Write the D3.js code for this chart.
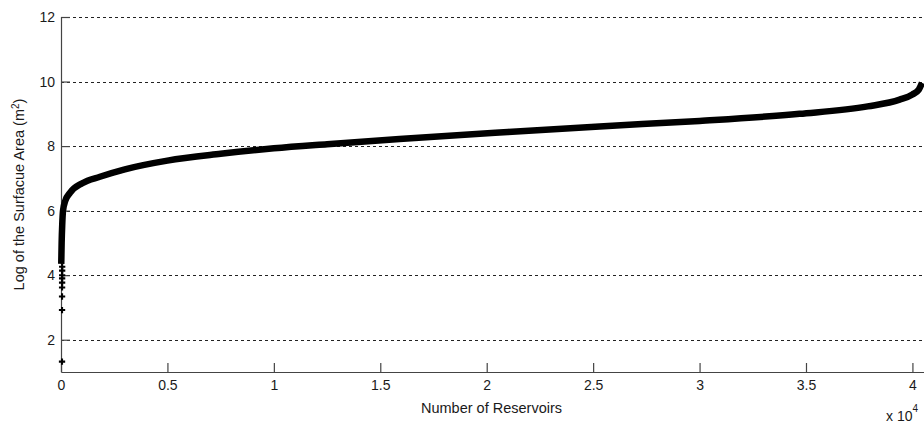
<!DOCTYPE html>
<html>
<head>
<meta charset="utf-8">
<script src="https://cdn.jsdelivr.net/npm/d3@7"></script>
<style>
  body { margin: 0; background: #fff; }
  svg { display: block; }
  text { font-family: "Liberation Sans", Arial, sans-serif; fill: #1a1a1a; }
</style>
</head>
<body>
<svg id="chart" width="924" height="426"></svg>
<script>
// reservoirs ranked by size (x in units of 10^4), log of surface area
var rankX  = [0.0012, 0.003, 0.006, 0.0095, 0.02, 0.042, 0.1, 0.183, 0.3, 0.5, 0.75, 1.0, 1.25, 1.59, 2.06, 2.53, 3.0, 3.47, 3.79, 3.94, 4.0, 4.03, 4.045];
var logArea = [4.35, 5.0, 5.6, 6.0, 6.3, 6.55, 6.85, 7.05, 7.28, 7.55, 7.76, 7.93, 8.06, 8.22, 8.42, 8.61, 8.78, 9.0, 9.23, 9.44, 9.6, 9.75, 9.96];
// the few smallest reservoirs, drawn as single markers
var lowX = [0.0001, 0.0002, 0.0003, 0.0004, 0.0005, 0.0006, 0.0007, 0.0008, 0.0009];
var lowY = [1.32, 2.92, 3.34, 3.62, 3.77, 3.9, 4.0, 4.14, 4.26];

var xTicks = [0, 0.5, 1, 1.5, 2, 2.5, 3, 3.5, 4];
var yTicks = [2, 4, 6, 8, 10, 12];

var margin = {top: 17, right: 2, bottom: 54, left: 61};
var svg = d3.select("#chart");
var W = 924, H = 426;
var width = W - margin.left - margin.right;
var height = H - margin.top - margin.bottom;
var tickFont = "14px";
var labelFont = "14.5px";

var g = svg.append("g").attr("transform", "translate(" + margin.left + "," + margin.top + ")");

var x = d3.scaleLinear().domain([0, 4.045]).range([0, width]);
var y = d3.scaleLinear().domain([1, 12]).range([height, 0]);

// grid
g.append("g")
  .selectAll("line")
  .data(yTicks)
  .enter().append("line")
  .attr("x1", 0).attr("x2", width + 2)
  .attr("y1", function(d){ return Math.round(y(d)) + 0.5; })
  .attr("y2", function(d){ return Math.round(y(d)) + 0.5; })
  .attr("stroke", "#222")
  .attr("stroke-width", 1)
  .attr("stroke-dasharray", "3,3");

// axes
var xAxis = d3.axisBottom(x).tickValues(xTicks).tickSize(-9).tickPadding(8)
  .tickFormat(function(d){ return d3.format("")(d); });
var xAxisGroup = g.append("g").attr("transform", "translate(0," + height + ")").call(xAxis);
var yAxis = d3.axisLeft(y).tickValues(yTicks).tickSize(-9).tickPadding(6);
var yAxisGroup = g.append("g").call(yAxis);

[xAxisGroup, yAxisGroup].forEach(function(ax){
  ax.select(".domain").attr("stroke", "#444").attr("stroke-width", 1.2);
  ax.selectAll(".tick line").attr("stroke", "#444").attr("stroke-width", 1.2);
  ax.selectAll("text").style("font-size", tickFont).attr("fill", "#1a1a1a");
});
xAxisGroup.select(".domain").attr("d", "M0.5,0.5H" + (width + 2));
yAxisGroup.select(".domain").attr("d", "M0.5," + (height + 0.5) + "V0");

// curve
var line = d3.line()
  .x(function(d){ return x(d[0]); })
  .y(function(d){ return y(d[1]); })
  .curve(d3.curveMonotoneX);

var pts = rankX.map(function(d, i){ return [d, logArea[i]]; });
g.append("path")
  .datum(pts)
  .attr("d", line)
  .attr("fill", "none")
  .attr("stroke", "#000")
  .attr("stroke-width", 6.5)
  .attr("stroke-linecap", "butt");

// '+' markers for the smallest values
var plus = d3.symbol().type(d3.symbolCross).size(22);
g.append("g")
  .selectAll("path")
  .data(lowX.map(function(d, i){ return [d, lowY[i]]; }))
  .enter().append("path")
  .attr("transform", function(d){ return "translate(" + (x(d[0]) + 1) + "," + y(d[1]) + ")"; })
  .attr("d", plus)
  .attr("fill", "#000");

// labels
svg.append("text")
  .attr("x", margin.left + width / 2)
  .attr("y", 413)
  .attr("text-anchor", "middle")
  .style("font-size", labelFont)
  .text("Number of Reservoirs");

var yl = svg.append("text")
  .attr("transform", "translate(24," + (margin.top + height / 2) + ") rotate(-90)")
  .attr("text-anchor", "middle")
  .style("font-size", labelFont);
yl.append("tspan").text("Log of the Surfacue Area (m");
yl.append("tspan").attr("dy", -5).style("font-size", "10px").text("2");
yl.append("tspan").attr("dy", 5).text(")");

var ex = svg.append("text")
  .attr("x", 886)
  .attr("y", 421)
  .style("font-size", tickFont);
ex.append("tspan").text("x 10");
ex.append("tspan").attr("dy", -9).style("font-size", "10px").text("4");
</script>
</body>
</html>
